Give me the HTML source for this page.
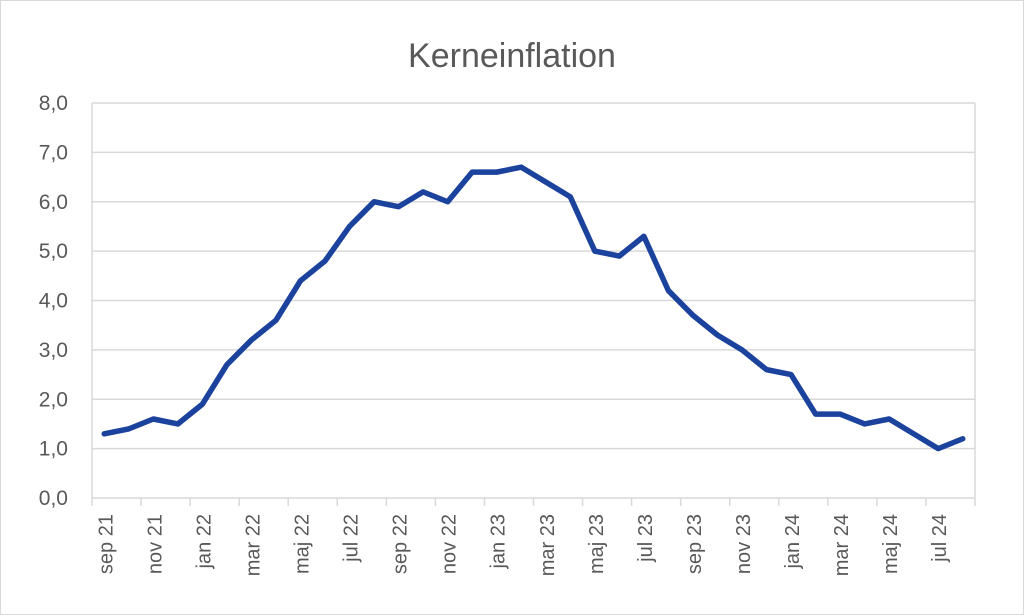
<!DOCTYPE html>
<html><head><meta charset="utf-8"><style>
body{margin:0;background:#fff;}
svg{display:block;font-family:"Liberation Sans",sans-serif;}
</style></head><body>
<svg id="chart" width="1024" height="615" viewBox="0 0 1024 615">
<rect x="0.5" y="0.5" width="1023" height="614" fill="#fff" stroke="#d9d9d9"/>
<text x="512" y="67" text-anchor="middle" font-size="34" fill="#595959">Kerneinflation</text>
<g id="grid"></g><g id="yt"></g><g id="xt"></g><g id="series"></g>
</svg>
<script>
const categories=["sep 21","okt 21","nov 21","dec 21","jan 22","feb 22","mar 22","apr 22","maj 22","jun 22","jul 22","aug 22","sep 22","okt 22","nov 22","dec 22","jan 23","feb 23","mar 23","apr 23","maj 23","jun 23","jul 23","aug 23","sep 23","okt 23","nov 23","dec 23","jan 24","feb 24","mar 24","apr 24","maj 24","jun 24","jul 24","aug 24"];
const values=[1.3,1.4,1.6,1.5,1.9,2.7,3.2,3.6,4.4,4.8,5.5,6.0,5.9,6.2,6.0,6.6,6.6,6.7,6.4,6.1,5.0,4.9,5.3,4.2,3.7,3.3,3.0,2.6,2.5,1.7,1.7,1.5,1.6,1.3,1.0,1.2];
const yTicks=[0,1,2,3,4,5,6,7,8];
const yLabels=["0,0","1,0","2,0","3,0","4,0","5,0","6,0","7,0","8,0"];
const NS="http://www.w3.org/2000/svg";
const X0=92,X1=975,Y0=498,Y1=103,YMAX=8;
const step=(X1-X0)/categories.length;
function xs(i){return X0+step*(i+0.5);}
function ys(v){return Y0-(v/YMAX)*(Y0-Y1);}
function mk(t,a,p){const e=document.createElementNS(NS,t);for(const k in a)e.setAttribute(k,a[k]);p.appendChild(e);return e;}
const grid=document.getElementById('grid'),yt=document.getElementById('yt'),xt=document.getElementById('xt'),se=document.getElementById('series');
yTicks.forEach((v,i)=>{
 const l=mk('line',{x1:X0,x2:X1,y1:ys(v),y2:ys(v),stroke:'#d9d9d9','stroke-width':1.5},grid);
 
 
 const t=mk('text',{x:X0-24,y:ys(v)+7,'text-anchor':'end','font-size':21,fill:'#595959'},yt);
 t.textContent=yLabels[i];
 
 
});
const la=mk('line',{x1:X0,x2:X0,y1:Y1,y2:Y0,stroke:'#d9d9d9','stroke-width':1.5},grid);


const ra=mk('line',{x1:X1,x2:X1,y1:Y1,y2:Y0,stroke:'#d9d9d9','stroke-width':1.5},grid);


for(let i=0;i<=categories.length;i+=2){
 const tk=mk('line',{x1:X0+step*i,x2:X0+step*i,y1:Y0,y2:Y0+8,stroke:'#d9d9d9','stroke-width':1.5},grid);
 
 
}
categories.forEach((c,i)=>{
 if(i%2)return;
 const x=xs(i)+1,y=Y0+16;
 const t=mk('text',{x:x,y:y,transform:`rotate(-90 ${x} ${y})`,'text-anchor':'end','font-size':20,fill:'#595959',dy:7},xt);
 t.textContent=c;
 
 
});
const pl=mk('polyline',{points:values.map((v,i)=>xs(i)+','+ys(v)).join(' '),fill:'none',stroke:'#1b429c','stroke-width':5.5,'stroke-linejoin':'round','stroke-linecap':'round'},se);


</script>
</body></html>
